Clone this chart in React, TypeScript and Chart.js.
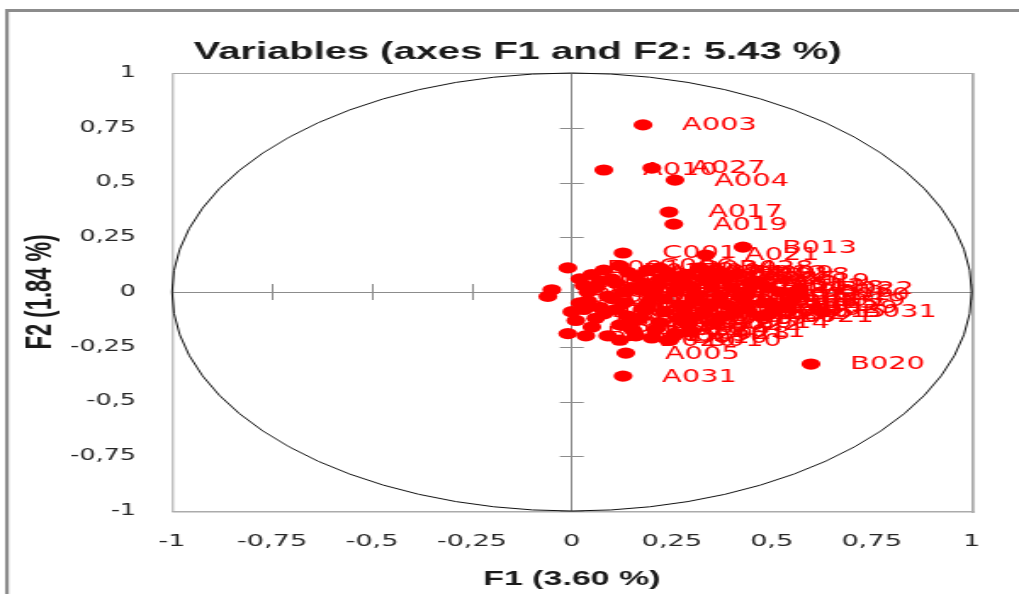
import React, { useEffect, useRef } from 'react';
import { Chart, registerables } from 'chart.js';

Chart.register(...registerables);

const CANVAS_W = 600;
const CANVAS_H = 594;

const TITLE = 'Variables (axes F1 and F2: 5.43 %)';
const X_TITLE = 'F1 (3.60 %)';
const Y_TITLE = 'F2 (1.84 %)';

const TICK_VALUES = [-1, -0.75, -0.5, -0.25, 0, 0.25, 0.5, 0.75, 1];
const TICK_LABELS = ['-1', '-0,75', '-0,5', '-0,25', '0', '0,25', '0,5', '0,75', '1'];

const VAR_NAMES = [
  'A001', 'A002', 'A003', 'A004', 'A005', 'A006', 'A007', 'A008', 'A009', 'A010',
  'A011', 'A012', 'A013', 'A014', 'A015', 'A016', 'A017', 'A018', 'A019', 'A020',
  'A021', 'A022', 'A023', 'A024', 'A025', 'A026', 'A027', 'A028', 'A029', 'A030', 'A031',
  'B001', 'B002', 'B003', 'B004', 'B005', 'B006', 'B007', 'B008', 'B009', 'B010',
  'B011', 'B012', 'B013', 'B014', 'B015', 'B016', 'B017', 'B018', 'B019', 'B020',
  'B021', 'B022', 'B023', 'B024', 'B025', 'B026', 'B027', 'B028', 'B029', 'B030', 'B031',
  'C001', 'C002', 'C003', 'C004', 'C005', 'C006', 'C007', 'C008', 'C009', 'C010',
  'C011', 'C012', 'C013', 'C014', 'C015', 'C016', 'C017', 'C018', 'C019', 'C020',
  'C021', 'C022', 'C023', 'C024', 'C025', 'C026', 'C027', 'C028', 'C029', 'C030',
  'D001', 'D002', 'D003', 'D004', 'D005', 'D006', 'D007', 'D008', 'D009', 'D010',
  'D011', 'D012', 'D013', 'D014', 'D015', 'D016', 'D017', 'D018', 'D019', 'D020',
  'D021', 'D022', 'D023', 'D024', 'D025',
];

const F1_VALUES = [
  0.02, 0.15, 0.178, 0.258, 0.135, 0.31, 0.22, 0.05, 0.27, 0.08,
  0.12, 0.40, 0.35, 0.18, 0.42, 0.09, 0.243, 0.26, 0.255, 0.14,
  0.335, 0.33, 0.06, 0.21, 0.38, 0.11, 0.20, 0.29, 0.16, 0.44, 0.128,
  -0.01, -0.05, -0.06, 0.00, -0.01, 0.035, 0.03, 0.07, 0.19, 0.24,
  0.30, 0.45, 0.428, 0.36, 0.48, 0.52, 0.50, 0.41, 0.55, 0.598,
  0.47, 0.57, 0.13, 0.23, 0.28, 0.10, 0.17, 0.32, 0.39, 0.05, 0.628,
  0.128, 0.04, 0.08, 0.20, 0.25, 0.12, 0.30, 0.43, 0.37, 0.15,
  0.34, 0.22, 0.07, 0.27, 0.50, 0.18, 0.37, 0.11, 0.46, 0.56,
  0.02, 0.29, 0.14, 0.40, 0.21, 0.33, 0.09, 0.26, 0.53, 0.16,
  0.01, 0.10, 0.19, 0.24, 0.31, 0.06, 0.38, 0.13, 0.28, 0.20,
  0.44, 0.35, 0.03, 0.17, 0.23, 0.41, 0.08, 0.49, 0.30, 0.12,
  0.27, 0.36, 0.15, 0.22, 0.04,
];

const F2_VALUES = [
  -0.05, 0.02, 0.763, 0.511, -0.279, -0.04, 0.06, 0.08, -0.12, 0.557,
  -0.15, -0.10, 0.03, -0.08, -0.02, -0.02, 0.365, 0.01, 0.31, 0.09,
  0.169, -0.10, -0.12, -0.17, 0.06, 0.04, 0.566, 0.08, -0.20, -0.08, -0.384,
  0.11, 0.01, -0.02, -0.09, -0.19, -0.20, 0.03, -0.07, 0.10, -0.22,
  -0.18, 0.03, 0.205, -0.14, -0.05, 0.00, -0.06, 0.08, -0.04, -0.329,
  -0.11, 0.014, -0.05, -0.03, 0.04, 0.06, -0.12, 0.11, -0.06, -0.16, -0.091,
  0.178, 0.00, -0.10, -0.01, 0.07, 0.12, 0.02, -0.04, 0.09, -0.17,
  -0.07, -0.14, 0.05, -0.06, -0.09, 0.04, -0.02, -0.08, 0.05, -0.01,
  0.06, -0.15, -0.11, 0.02, 0.02, 0.06, -0.20, -0.19, -0.07, 0.07,
  -0.13, -0.03, -0.05, 0.09, -0.01, 0.02, -0.11, 0.00, -0.09, -0.21,
  -0.01, 0.09, -0.08, 0.01, -0.09, -0.09, 0.10, 0.02, -0.12, -0.22,
  0.05, -0.05, -0.14, 0.11, -0.04,
];

const tickLabel = (value: number | string) => {
  const v = Number(value);
  const i = TICK_VALUES.findIndex((t) => Math.abs(t - v) < 1e-9);
  return i >= 0 ? TICK_LABELS[i] : '';
};

const NARROW = '"Liberation Sans Narrow", "Liberation Sans", sans-serif';
const LABEL_FONT = '17px "DejaVu Sans", sans-serif';

const decorPlugin = {
  id: 'decor',
  beforeDraw(chart: any) {
    const { ctx, width, height } = chart;
    ctx.save();
    ctx.fillStyle = '#ffffff';
    ctx.fillRect(0, 0, width, height);
    ctx.fillStyle = '#8c8c8c';
    ctx.fillRect(3, 9, 2.2, height - 9);
    ctx.fillRect(3, 9, width - 3, 3);
    ctx.restore();
  },
  beforeDatasetsDraw(chart: any) {
    const { ctx, chartArea } = chart;
    const xs = chart.scales.x;
    const ys = chart.scales.y;
    const { left, right, top, bottom } = chartArea;
    ctx.save();
    ctx.strokeStyle = '#a6a6a6';
    ctx.lineWidth = 1;
    ctx.strokeRect(left + 0.5, top + 0.5, right - left, bottom - top);
    ctx.fillStyle = '#ababab';
    ctx.fillRect(right, top, 1.6, bottom - top + 2);
    ctx.fillRect(left, bottom, right - left + 1.6, 1.5);
    const cx = xs.getPixelForValue(0);
    const cy = ys.getPixelForValue(0);
    ctx.strokeStyle = '#8c8c8c';
    ctx.lineWidth = 1;
    ctx.beginPath();
    TICK_VALUES.forEach((v) => {
      const px = xs.getPixelForValue(v);
      ctx.moveTo(Math.round(px) + 0.5, cy - 8);
      ctx.lineTo(Math.round(px) + 0.5, cy + 8);
      const py = ys.getPixelForValue(v);
      ctx.moveTo(cx - 7, Math.round(py) + 0.5);
      ctx.lineTo(cx + 7, Math.round(py) + 0.5);
    });
    ctx.stroke();
    const rx = xs.getPixelForValue(1) - cx;
    const ry = cy - ys.getPixelForValue(1);
    ctx.strokeStyle = '#111111';
    ctx.lineWidth = 1;
    ctx.beginPath();
    ctx.ellipse(cx, cy, rx, ry, 0, 0, Math.PI * 2);
    ctx.stroke();
    ctx.restore();
  },
  afterDatasetsDraw(chart: any) {
    const { ctx } = chart;
    const meta = chart.getDatasetMeta(0);
    ctx.save();
    ctx.font = LABEL_FONT;
    ctx.fillStyle = '#ff0000';
    ctx.textAlign = 'left';
    ctx.textBaseline = 'middle';
    meta.data.forEach((pt: any, i: number) => {
      ctx.fillText(VAR_NAMES[i], pt.x + 23, pt.y + 1);
    });
    ctx.restore();
  },
};

export default function App() {
  const canvasRef = useRef<HTMLCanvasElement | null>(null);

  useEffect(() => {
    document.body.style.margin = '0';
    const canvas = canvasRef.current;
    if (!canvas) return;
    const points = F1_VALUES.map((x, i) => ({ x, y: F2_VALUES[i] }));
    const chart = new Chart(canvas, {
      type: 'scatter',
      data: {
        datasets: [
          {
            label: 'Variables',
            data: points,
            backgroundColor: '#ff0000',
            borderWidth: 0,
            pointRadius: 5.6,
            pointHoverRadius: 5.6,
            xAxisID: 'x',
            yAxisID: 'y',
          },
        ],
      },
      options: {
        responsive: false,
        animation: false,
        events: [],
        layout: { padding: { left: 9.6, right: 0, top: 0, bottom: 0 } },
        plugins: {
          legend: { display: false },
          tooltip: { enabled: false },
          title: {
            display: true,
            text: TITLE,
            color: '#1a1a1a',
            font: { family: NARROW, size: 23.5, weight: 'bold' },
            padding: { top: 38.9, bottom: 5.9 },
          },
        },
        scales: {
          x: {
            type: 'linear',
            position: 'bottom',
            min: -1,
            max: 1,
            afterFit: (s: any) => {
              s.height = 83;
            },
            ticks: {
              stepSize: 0.25,
              padding: 21,
              autoSkip: false,
              maxRotation: 0,
              color: '#262626',
              font: { family: '"DejaVu Sans", sans-serif', size: 16 },
              callback: tickLabel,
            },
            grid: {
              drawTicks: false,
              lineWidth: 1,
              color: (c: any) => (c.tick && c.tick.value === 0 ? '#8c8c8c' : 'rgba(0,0,0,0)'),
            },
            border: { display: false },
            title: {
              display: true,
              text: X_TITLE,
              color: '#1a1a1a',
              font: { family: NARROW, size: 20, weight: 'bold' },
              padding: { top: 0, bottom: 3 },
            },
          },
          y: {
            type: 'linear',
            position: 'left',
            min: -1,
            max: 1,
            afterFit: (s: any) => {
              s.width = 91.7;
            },
            ticks: {
              stepSize: 0.25,
              padding: 21.2,
              autoSkip: false,
              color: '#262626',
              font: { family: '"DejaVu Sans", sans-serif', size: 15 },
              callback: tickLabel,
            },
            grid: {
              drawTicks: false,
              lineWidth: 1,
              color: (c: any) => (c.tick && c.tick.value === 0 ? '#8c8c8c' : 'rgba(0,0,0,0)'),
            },
            border: { display: false },
            title: {
              display: true,
              text: Y_TITLE,
              color: '#1a1a1a',
              font: { family: NARROW, size: 22, weight: 'bold' },
              padding: { top: 1.5, bottom: 0 },
            },
          },
          yRight: {
            type: 'linear',
            position: 'right',
            min: -1,
            max: 1,
            display: true,
            afterFit: (s: any) => {
              s.width = 27.9;
            },
            ticks: { display: false },
            grid: { display: false },
            border: { display: false },
          },
        },
      },
      plugins: [decorPlugin],
    } as any);
    return () => {
      chart.destroy();
    };
  }, []);

  return (
    <div>
      <canvas
        ref={canvasRef}
        width={CANVAS_W}
        height={CANVAS_H}
        style={{ width: '1019px', height: '594px', display: 'block' }}
      />
    </div>
  );
}
